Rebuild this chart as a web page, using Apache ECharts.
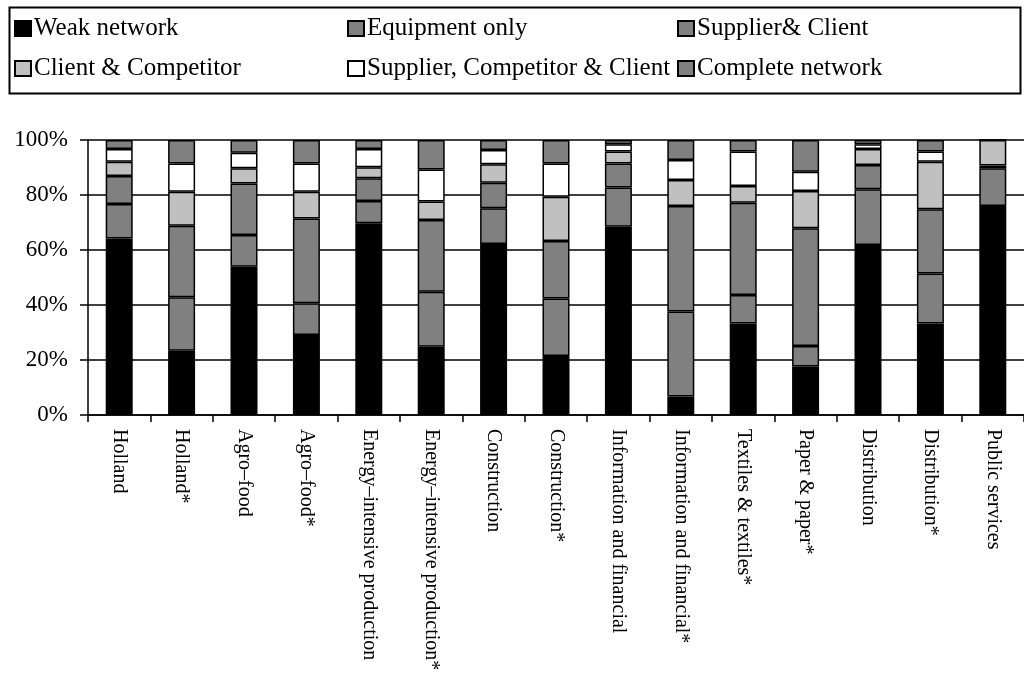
<!DOCTYPE html>
<html>
<head>
<meta charset="utf-8">
<script src="https://cdn.jsdelivr.net/npm/echarts@6/dist/echarts.min.js"></script>
<style>
html,body{margin:0;padding:0;background:#fff;}
#chart{width:1024px;height:689px;}
</style>
</head>
<body>
<div id="chart"></div>
<script>
const categories = ['Holland','Holland*','Agro–food','Agro–food*','Energy–intensive production','Energy–intensive production*','Construction','Construction*','Information and financial','Information and financial*','Textiles & textiles*','Paper & paper*','Distribution','Distribution*','Public services'];
const seriesNames = ['Weak network','Equipment only','Supplier& Client','Client & Competitor','Supplier, Competitor & Client','Complete network'];
const weak       = [64.2, 23.4, 53.9, 29.1, 69.7, 24.8, 62.2, 21.5, 68.5,  6.7, 33.3, 17.6, 61.8, 33.3, 76.0];
const equipment  = [12.5, 19.4, 11.6, 11.5,  8.1, 20.0, 13.0, 20.9, 14.2, 30.9, 10.3,  7.5, 20.3, 18.2, 13.7];
const supCli     = [10.2, 26.0, 18.7, 30.9,  8.3, 26.1,  9.3, 20.9,  8.8, 38.4, 33.6, 42.8,  8.8, 23.3,  1.0];
const cliComp    = [ 5.2, 12.4,  5.5,  9.7,  4.0,  6.7,  6.7, 16.1,  4.3,  9.5,  6.1, 13.6,  5.8, 17.3,  9.3];
const supCompCli = [ 4.6, 10.3,  5.7, 10.3,  6.6, 11.7,  5.2, 12.1,  2.7,  7.2, 12.5,  7.0,  1.8,  3.7,  0.0];
const complete   = [ 3.3,  8.5,  4.6,  8.5,  3.3, 10.7,  3.6,  8.5,  1.5,  7.3,  4.2, 11.5,  1.5,  4.2,  0.0];
const yTicks = [0, 20, 40, 60, 80, 100];

const values = [weak, equipment, supCli, cliComp, supCompCli, complete];
const colors = ['#000000','#808080','#808080','#c0c0c0','#ffffff','#808080'];
const font = 'Liberation Serif, Times New Roman, serif';

const legendPos = [[14,16],[347,16],[677,16],[14,56],[347,56],[677,56]];

const chart = echarts.init(document.getElementById('chart'), null, {renderer:'canvas'});
chart.setOption({
  animation: false,
  backgroundColor: '#ffffff',
  graphic: [{
    type: 'rect', left: 7, top: 5,
    shape: {width: 1011, height: 86},
    style: {fill: 'none', stroke: '#000', lineWidth: 2}
  }],
  legend: seriesNames.map((n, i) => ({
    data: [n], left: legendPos[i][0], top: legendPos[i][1], padding: 0,
    icon: 'rect', itemWidth: 16, itemHeight: 15, itemGap: 0,
    textStyle: {fontFamily: font, fontSize: 25, color: '#000', padding: [0,0,0,-2]}
  })),
  grid: {left: 88, right: -6, top: 140, bottom: 274, containLabel: false},
  xAxis: {
    type: 'category', data: categories,
    axisLine: {lineStyle: {color: '#000', width: 1.5}},
    axisTick: {show: true, length: 7, lineStyle: {color: '#000', width: 1.5}},
    axisLabel: {rotate: -90, margin: 14, interval: 0, fontFamily: font, fontSize: 20, color: '#000'}
  },
  yAxis: {
    type: 'value', min: yTicks[0], max: yTicks[yTicks.length-1], interval: 20,
    axisLine: {show: true, lineStyle: {color: '#000', width: 1.5}},
    axisTick: {show: true, length: 8, lineStyle: {color: '#000', width: 1.5}},
    splitLine: {show: true, lineStyle: {color: '#000', width: 1.5}},
    axisLabel: {formatter: '{value}%', margin: 20, fontFamily: font, fontSize: 23, color: '#000'}
  },
  series: seriesNames.map((n, i) => ({
    name: n, type: 'bar', stack: 'total', barWidth: 27,
    data: values[i],
    itemStyle: {color: colors[i], borderColor: '#000', borderWidth: 1.5}
  }))
});
</script>
</body>
</html>
